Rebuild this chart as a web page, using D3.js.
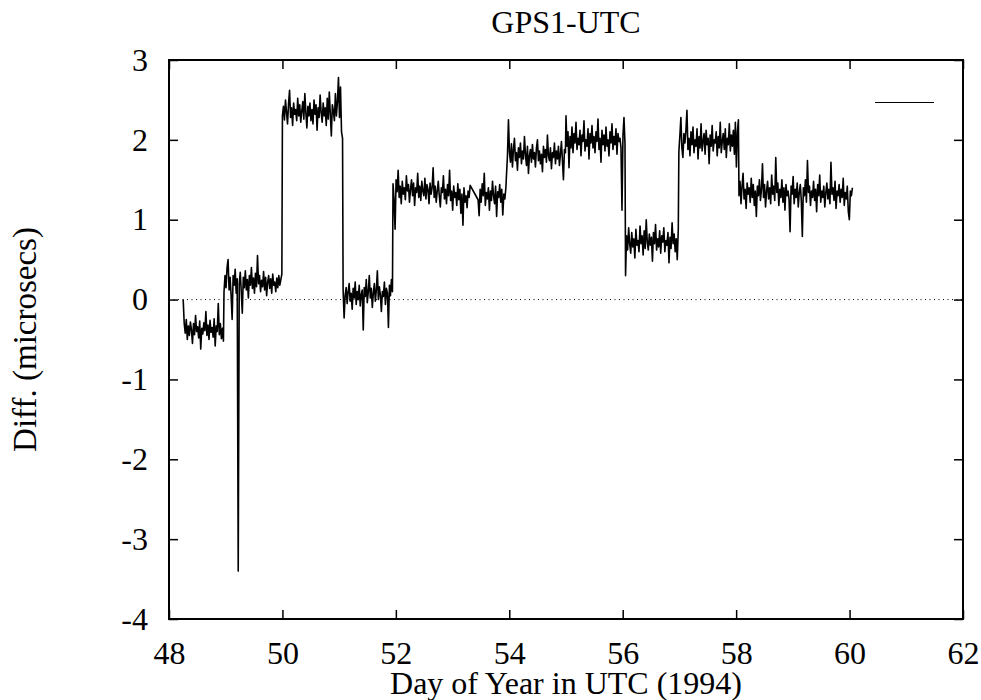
<!DOCTYPE html>
<html lang="en">
<head>
  <meta charset="UTF-8">
  <title>GPS1-UTC</title>
  <script src="https://d3js.org/d3.v7.min.js"></script>
  <style>
    body {
      margin: 0;
      background: #fff;
    }
    svg {
      display: block;
    }
  </style>
</head>
<body>
  <svg width="981" height="700"></svg>

  <script>
    // Tick values of both axes
    const xTicks = [48, 50, 52, 54, 56, 58, 60, 62];
    const yTicks = [-4, -3, -2, -1, 0, 1, 2, 3];

    // Each steady stretch of the record: first and last day, then the readings
    const segStart = [48.25, 48.97, 50.00, 51.07, 51.95, 53.45, 53.95, 55.00, 56.05, 56.99, 58.05];
    const segEnd   = [48.96, 49.99, 51.06, 51.94, 53.31, 53.94, 54.99, 56.04, 56.98, 58.04, 60.05];

    const segA = [0.00, -0.30, -0.42, -0.25, -0.50, -0.33, -0.45, -0.28, -0.38, -0.55,
                  -0.30, -0.44, -0.20, -0.40, -0.34, -0.48, -0.27, -0.62, -0.36, -0.43,
                  -0.29, -0.39, -0.15, -0.45, -0.32, -0.50, -0.26, -0.41, -0.35, -0.47,
                  -0.24, -0.58, -0.33, -0.40, -0.05, -0.44, -0.30, -0.49, -0.36, -0.52];
    const segB = [0.10, 0.30, 0.15, 0.40, 0.50, 0.12, 0.28, 0.05, -0.25, 0.30,
                  0.18, 0.38, 0.08, 0.26, -3.40, 0.20, 0.34, 0.10, -0.17, 0.28,
                  0.15, 0.36, 0.12, 0.25, 0.02, 0.30, 0.18, 0.40, 0.14, 0.27,
                  0.08, 0.33, 0.16, 0.55, 0.20, 0.30, 0.10, 0.24, 0.16, 0.35,
                  0.12, 0.28, 0.05, 0.22, 0.30, 0.14, 0.26, 0.08, 0.32, 0.18,
                  0.22, 0.10, 0.27, 0.15, 0.30, 0.18, 0.25, 0.32];
    const segC = [2.30, 2.42, 2.25, 2.50, 2.35, 2.20, 2.45, 2.62, 2.28, 2.40,
                  2.18, 2.46, 2.32, 2.38, 2.24, 2.52, 2.30, 2.44, 2.22, 2.36,
                  2.48, 2.26, 2.58, 2.34, 2.15, 2.42, 2.30, 2.46, 2.24, 2.38,
                  2.20, 2.50, 2.32, 2.44, 2.12, 2.40, 2.28, 2.56, 2.34, 2.22,
                  2.46, 2.30, 2.40, 2.18, 2.52, 2.26, 2.60, 2.32, 2.05, 2.44,
                  2.36, 2.24, 2.58, 2.30, 2.48, 2.78, 2.28, 2.66, 2.10, 2.02];
    const segD = [0.12, -0.23, 0.05, 0.15, -0.05, 0.10, 0.20, -0.02, 0.08, -0.12,
                  0.14, 0.02, 0.22, -0.06, 0.10, 0.00, 0.18, -0.08, 0.06, 0.12,
                  -0.38, 0.15, 0.04, 0.25, -0.04, 0.10, 0.30, 0.02, 0.14, -0.10,
                  0.08, 0.20, -0.02, 0.12, 0.36, 0.00, 0.16, 0.06, -0.15, 0.10,
                  0.04, 0.22, -0.06, 0.14, 0.08, -0.35, 0.18, 0.05, 0.25, 0.10];
    const segE = [1.45, 1.25, 0.88, 1.50, 1.35, 1.62, 1.28, 1.42, 1.20, 1.48,
                  1.32, 1.40, 1.25, 1.55, 1.36, 1.44, 1.22, 1.38, 1.50, 1.30,
                  1.46, 1.18, 1.40, 1.34, 1.58, 1.28, 1.42, 1.24, 1.48, 1.36,
                  1.30, 1.52, 1.26, 1.44, 1.38, 1.20, 1.46, 1.32, 1.40, 1.65,
                  1.28, 1.42, 1.22, 1.36, 1.48, 1.30, 1.16, 1.40, 1.34, 1.55,
                  1.26, 1.38, 1.20, 1.44, 1.30, 1.62, 1.24, 1.36, 1.12, 1.42,
                  1.28, 1.34, 1.18, 1.45, 1.25, 1.38, 1.08, 1.32, 0.93, 1.40,
                  1.22, 1.30, 1.15, 1.36, 1.28, 1.43];
    const segF = [1.25, 1.05, 1.38, 1.22, 1.45, 1.30, 1.58, 1.18, 1.34, 1.26,
                  1.40, 1.12, 1.36, 1.24, 1.48, 1.30, 1.20, 1.42, 1.04, 1.35,
                  1.28, 1.44, 1.22, 1.38, 1.06, 1.32, 1.26, 1.40];
    const segG = [1.55, 1.80, 2.25, 1.85, 1.72, 1.95, 1.66, 1.88, 2.02, 1.74,
                  1.84, 1.62, 1.90, 1.78, 1.96, 1.70, 1.86, 1.76, 2.04, 1.82,
                  1.68, 1.92, 1.58, 1.80, 1.88, 1.72, 1.94, 1.76, 1.84, 1.66,
                  1.90, 2.00, 1.74, 1.86, 1.70, 1.82, 1.60, 1.92, 1.78, 1.88,
                  1.72, 2.06, 1.80, 1.74, 1.90, 1.64, 1.84, 1.78, 1.96, 1.70,
                  1.86, 1.76, 1.92, 1.68, 1.82, 1.98, 1.74, 1.50, 1.88, 1.84];
    const segH = [2.30, 1.92, 2.10, 1.65, 2.04, 1.90, 2.16, 1.84, 2.08, 1.96,
                  2.22, 1.88, 2.02, 1.94, 2.12, 1.80, 2.06, 1.98, 2.24, 1.86,
                  2.00, 1.92, 2.14, 1.76, 2.08, 1.96, 2.18, 1.90, 2.04, 1.84,
                  2.10, 1.98, 2.26, 1.88, 2.02, 1.72, 2.12, 1.94, 2.06, 1.86,
                  2.16, 1.92, 2.00, 1.80, 2.10, 1.96, 2.20, 1.88, 2.04, 1.94,
                  2.14, 1.82, 2.08, 1.98, 2.02, 1.90, 1.12, 2.06, 2.28, 1.95];
    const segI = [0.30, 0.80, 0.62, 0.90, 0.70, 0.58, 0.84, 0.66, 0.76, 0.52,
                  0.88, 0.68, 0.74, 0.60, 0.92, 0.70, 0.80, 0.56, 0.86, 0.64,
                  1.00, 0.72, 0.62, 0.82, 0.68, 0.78, 0.48, 0.84, 0.70, 0.94,
                  0.62, 0.76, 0.66, 0.86, 0.58, 0.80, 0.72, 0.90, 0.60, 0.74,
                  0.68, 0.84, 0.46, 0.78, 0.64, 0.96, 0.70, 0.82, 0.60, 0.76,
                  0.50, 0.88];
    const segJ = [1.85, 2.05, 2.28, 1.90, 1.78, 2.08, 1.96, 2.12, 2.37, 1.88,
                  2.02, 1.80, 2.10, 1.94, 2.16, 1.84, 2.00, 1.92, 2.14, 1.76,
                  2.04, 1.90, 2.20, 1.86, 1.98, 2.08, 1.82, 2.12, 1.94, 2.02,
                  1.70, 2.06, 1.92, 2.18, 1.86, 2.00, 1.96, 2.10, 1.80, 2.04,
                  1.90, 2.22, 1.84, 1.98, 2.08, 1.88, 2.14, 1.78, 2.02, 1.94,
                  2.20, 1.86, 2.06, 1.92, 2.12, 1.82, 2.22, 1.66, 2.10, 2.25];
    const segK = [1.30, 1.48, 1.20, 1.42, 1.58, 1.26, 1.38, 1.14, 1.46, 1.32,
                  1.40, 1.22, 1.52, 1.28, 1.44, 1.18, 1.36, 1.04, 1.42, 1.30,
                  1.50, 1.24, 1.38, 1.70, 1.28, 1.44, 1.16, 1.36, 1.48, 1.26,
                  1.40, 1.20, 1.56, 1.32, 1.42, 1.24, 1.78, 1.34, 1.46, 1.18,
                  1.38, 1.28, 1.50, 1.22, 1.40, 1.12, 1.44, 1.30, 1.36, 1.26,
                  0.85, 1.42, 1.32, 1.54, 1.20, 1.38, 1.28, 1.46, 1.16, 1.34,
                  1.44, 1.24, 0.79, 1.40, 1.30, 1.50, 1.22, 1.74, 1.34, 1.42,
                  1.18, 1.36, 1.28, 1.48, 1.24, 1.38, 1.10, 1.44, 1.30, 1.56,
                  1.22, 1.36, 1.28, 1.42, 1.16, 1.34, 1.46, 1.26, 1.38, 1.20,
                  1.72, 1.32, 1.40, 1.24, 1.48, 1.14, 1.36, 1.30, 1.44, 1.22,
                  1.38, 1.28, 1.52, 1.18, 1.34, 1.26, 1.42, 1.10, 1.00, 1.36,
                  1.30, 1.40];

    const segValues = [segA, segB, segC, segD, segE, segF, segG, segH, segI, segJ, segK];

    // readings are evenly spaced inside each stretch
    const points = [];
    segValues.forEach((vals, k) => {
      const step = (segEnd[k] - segStart[k]) / (vals.length - 1);
      vals.forEach((v, i) => points.push([segStart[k] + i * step, v]));
    });

    const svg = d3.select("svg");
    const pLeft = 169, pRight = 963, pTop = 60, pBottom = 619;
    const serif = "'Liberation Serif', 'Times New Roman', serif";

    const x = d3.scaleLinear().domain([48, 62]).range([pLeft, pRight]);
    const y = d3.scaleLinear().domain([-4, 3]).range([pBottom, pTop]);

    // Title
    svg.append("text")
      .attr("x", (pLeft + pRight) / 2)
      .attr("y", 33)
      .attr("text-anchor", "middle")
      .style("font-family", serif)
      .style("font-size", "32px")
      .text("GPS1-UTC");

    // Axes, ticks pointing inward on all four sides
    const plain = d => String(d);

    svg.append("g")
      .attr("class", "axis")
      .attr("transform", `translate(0,${pBottom})`)
      .call(d3.axisBottom(x).tickValues(xTicks).tickFormat(plain).tickSizeInner(-9).tickSizeOuter(0).tickPadding(22));

    svg.append("g")
      .attr("class", "axis")
      .attr("transform", `translate(0,${pTop})`)
      .call(d3.axisTop(x).tickValues(xTicks).tickSizeInner(-9).tickSizeOuter(0).tickFormat(""));

    svg.append("g")
      .attr("class", "axis")
      .attr("transform", `translate(${pLeft},0)`)
      .call(d3.axisLeft(y).tickValues(yTicks).tickFormat(plain).tickSizeInner(-9).tickSizeOuter(0).tickPadding(21));

    svg.append("g")
      .attr("class", "axis")
      .attr("transform", `translate(${pRight},0)`)
      .call(d3.axisRight(y).tickValues(yTicks).tickSizeInner(-9).tickSizeOuter(0).tickFormat(""));

    svg.selectAll(".axis .domain").remove();
    svg.selectAll(".axis .tick line").attr("stroke", "#000").attr("stroke-width", 1.5);
    svg.selectAll(".axis .tick text")
      .attr("fill", "#000")
      .style("font-family", serif)
      .style("font-size", "32px");

    // Dotted zero line
    svg.append("line")
      .attr("x1", pLeft)
      .attr("x2", pRight)
      .attr("y1", y(0))
      .attr("y2", y(0))
      .attr("stroke", "#000")
      .attr("stroke-width", 1)
      .attr("stroke-dasharray", "1,3.5");

    // The record
    svg.append("path")
      .datum(points)
      .attr("fill", "none")
      .attr("stroke", "#000")
      .attr("stroke-width", 1.6)
      .attr("stroke-linejoin", "round")
      .attr("d", d3.line().x(d => x(d[0])).y(d => y(d[1])));

    // Frame
    svg.append("rect")
      .attr("x", pLeft)
      .attr("y", pTop)
      .attr("width", pRight - pLeft)
      .attr("height", pBottom - pTop)
      .attr("fill", "none")
      .attr("stroke", "#000")
      .attr("stroke-width", 2);

    // Legend key (no label)
    svg.append("line")
      .attr("x1", 875)
      .attr("x2", 934)
      .attr("y1", 102.5)
      .attr("y2", 102.5)
      .attr("stroke", "#000")
      .attr("stroke-width", 1);

    // Axis titles
    svg.append("text")
      .attr("x", (pLeft + pRight) / 2)
      .attr("y", 694)
      .attr("text-anchor", "middle")
      .style("font-family", serif)
      .style("font-size", "32px")
      .text("Day of Year in UTC (1994)");

    svg.append("text")
      .attr("transform", `translate(36,${(pTop + pBottom) / 2}) rotate(-90)`)
      .attr("text-anchor", "middle")
      .style("font-family", serif)
      .style("font-size", "33px")
      .text("Diff. (microsecs)");
  </script>
</body>
</html>
